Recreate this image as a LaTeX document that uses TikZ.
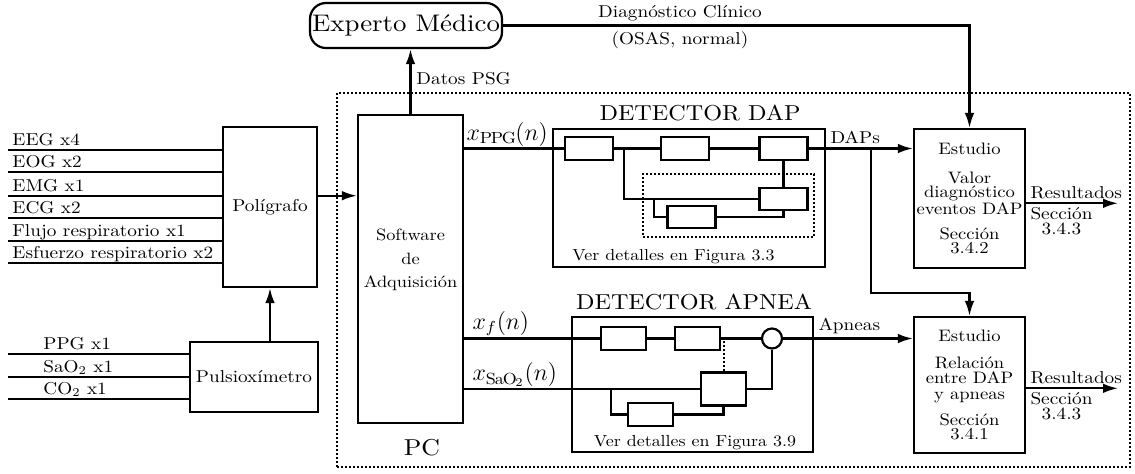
\documentclass[tikz,border=0pt]{standalone}
\usepackage{fontspec}
\setmainfont{lmroman10-regular}[Extension=.otf, FakeStretch=1.12]
\usepackage{tikz}
\usetikzlibrary{positioning,arrows.meta}

\begin{document}
\begin{tikzpicture}[
  x=0.5pt, y=-0.5pt,
  every node/.style={align=center},
  txt/.style={font=\fontsize{8.6}{7.5}\selectfont},
  lbl/.style={txt, inner sep=2pt},
  sig/.style={font=\fontsize{11.5}{13}\selectfont, inner sep=1pt},
  ttl/.style={font=\fontsize{10.8}{12}\selectfont, inner sep=0pt},
  note/.style={font=\fontsize{8}{9}\selectfont, inner sep=0pt},
  box/.style={draw, line width=1.1pt, inner sep=0pt},
  sbox/.style={box, minimum width=24pt, minimum height=11.5pt},
  abox/.style={box, minimum width=22.5pt, minimum height=11.5pt},
  wire/.style={line width=1.1pt},
  arr/.style={wire, -{Latex[length=7.5pt,width=4.8pt]}},
  dots/.style={densely dotted, line width=1pt}
]
\useasboundingbox (0,0) rectangle (1135,473);

\node[box, rounded corners=8pt, minimum width=96pt, minimum height=22.5pt, font=\fontsize{12}{13}\selectfont] (expert) at (406,25.5) {Experto Médico};
\node[box, txt, minimum width=47pt, minimum height=80pt] (poli) at (270,207) {Polígrafo};
\node[box, txt, minimum width=64pt, minimum height=35pt] (puls) at (254,377) {Pulsioxímetro};
\node[dots, draw, minimum width=396.5pt, minimum height=187pt] (pcbox) at (733.5,280) {};
\node[box, minimum width=52.5pt, minimum height=154pt] (soft) at (410.5,269) {};
\node[font=\fontsize{8.2}{11.65}\selectfont] (softtxt) at (410.5,260) {Software\\de\\Adquisición};
\node[font=\fontsize{11.5}{13}\selectfont] (pc) at (422,448) {PC};

\foreach \sg/\yy [count=\i] in {EEG x4/150, EOG x2/172.3, EMG x1/195.7, ECG x2/218.3, Flujo respiratorio x1/240.7, Esfuerzo respiratorio x2/263.3} {
  \coordinate (in\i) at (8,\yy);
  \draw[wire] (in\i) -- (in\i -| poli.west);
  \node[lbl, anchor=base west] (inl\i) at (8,\yy-4.5) {\sg};
}
\foreach \sg/\yy [count=\i] in {PPG x1/354, SaO$_2$ x1/376.7, CO$_2$ x1/399.3} {
  \coordinate (pin\i) at (8,\yy);
  \draw[wire] (pin\i) -- (pin\i -| puls.west);
  \node[lbl, anchor=base west] (pinl\i) at (39,\yy-4.5) {\sg};
}

\draw[arr] (in3 -| poli.east) -- (in3 -| soft.west);
\draw[arr] (poli.south |- puls.north) -- (poli.south);
\draw[arr] (soft.north) -- (soft.north |- expert.south);
\node[lbl, anchor=west] (psg) at (412,79) {Datos PSG};

\node[box, minimum width=55.5pt, minimum height=69.5pt, font=\fontsize{8.3}{7.25}\selectfont] (est1) at (969.5,198.5) {Estudio\\[7.1pt]Valor\\diagnóstico\\eventos DAP\\[4.9pt]Sección\\3.4.2};
\node[box, minimum width=55.5pt, minimum height=68pt, font=\fontsize{8.3}{7.25}\selectfont] (est2) at (969.5,385) {Estudio\\[6.4pt]Relación\\entre DAP\\[1pt]y apneas\\[4.1pt]Sección\\3.4.1};

\draw[arr] (expert.east) -| (est1.north);
\node[lbl, above] (diag) at (680,25) {Diagnóstico Clínico};
\node[lbl, below, inner sep=3pt] (osas) at (680,25) {(OSAS, normal)};

\node[box, minimum width=136pt, minimum height=69pt] (dap) at (689,198) {};
\node[ttl, anchor=base] (daptit) at (700,120) {DETECTOR DAP};
\node[sbox] (b1) at (589,148.5) {};
\node[sbox, right=23pt of b1] (b2) {};
\node[sbox, right=24pt of b2] (b3) {};
\node[sbox, below=13pt of b3, minimum height=11pt] (b4) {};
\node[sbox, minimum height=11pt] (b5) at (691.5,217) {};
\node[dots, draw, minimum width=85.5pt, minimum height=31.5pt] (grp) at (728.5,205.5) {};
\node[note, anchor=base] (dapnote) at (673.5,260) {Ver detalles en Figura 3.3};
\coordinate (j1) at ([xshift=5pt]b1.east);
\coordinate (j2) at ([xshift=20pt]b1.east);

\draw[wire] (soft.east |- b1) -- (b1);
\node[sig, anchor=south west] (xppg) at (soft.east |- b1) {$x_{\mathrm{PPG}}(n)$};
\draw[wire] (b1) -- (b2);
\draw[wire] (b2) -- (b3);
\draw[arr] (b3) -- (b3 -| est1.west);
\node[lbl, anchor=south west] (daps) at (b3 -| dap.east) {DAPs};
\draw[wire] (j1) |- (b4.west);
\draw[wire] (j2 |- b4.west) |- (b5.west);
\draw[wire] (b5.east) -| (b4.south);
\draw[wire] (b3.south) -- (b4.north);
\coordinate (split) at (871,148.5);
\coordinate (turn) at (871,293);
\draw[arr] (split) -- (turn) -| (est2.north);

\node[box, minimum width=120.5pt, minimum height=67.5pt] (apnea) at (692.5,384.5) {};
\node[ttl, anchor=base] (aptit) at (694,309.5) {DETECTOR APNEA};
\node[abox] (a1) at (623.5,338.5) {};
\node[abox, right=13.5pt of a1] (a2) {};
\node[draw, circle, line width=1.1pt, minimum size=10pt, inner sep=0pt] (sum) at (772,338.5) {};
\node[abox, minimum height=16.5pt] (a3) at (723.5,389) {};
\node[abox] (a4) at (650.5,414.5) {};
\node[note, anchor=base] (apnote) at (695,446.7) {Ver detalles en Figura 3.9};
\coordinate (j3) at ([xshift=-8pt]a4.west);

\draw[wire] (soft.east |- a1) -- (a1);
\node[sig, anchor=south west, xshift=3pt] (xf) at (soft.east |- a1) {$x_f(n)$};
\draw[wire] (a1) -- (a2);
\draw[wire] (a2) -- (sum);
\draw[arr] (sum) -- (sum -| est2.west);
\node[lbl, anchor=south west] (apn) at (sum -| apnea.east) {Apneas};
\draw[wire] (soft.east |- a3) -- (a3);
\node[sig, anchor=south west, xshift=3pt] (xsao) at (soft.east |- a3) {$x_{\mathrm{SaO}_2}(n)$};
\draw[wire] (j3 |- a3) |- (a4.west);
\draw[wire] (a4.east) -| (a3.south);
\draw[wire] (a3.east) -| (sum.south);
\draw[dots] (a3.north) -- (a3.north |- a2);

\coordinate (r1) at (1118,203.3);
\coordinate (r2) at (1118,388.3);
\draw[arr] (r1 -| est1.east) -- (r1);
\node[lbl, anchor=south west] (res1) at (r1 -| est1.east) {Resultados};
\node[lbl, anchor=north west] (sec1) at (r1 -| est1.east) {Sección\\3.4.3};
\draw[arr] (r2 -| est2.east) -- (r2);
\node[lbl, anchor=south west] (res2) at (r2 -| est2.east) {Resultados};
\node[lbl, anchor=north west] (sec2) at (r2 -| est2.east) {Sección\\3.4.3};
\end{tikzpicture}
\end{document}
